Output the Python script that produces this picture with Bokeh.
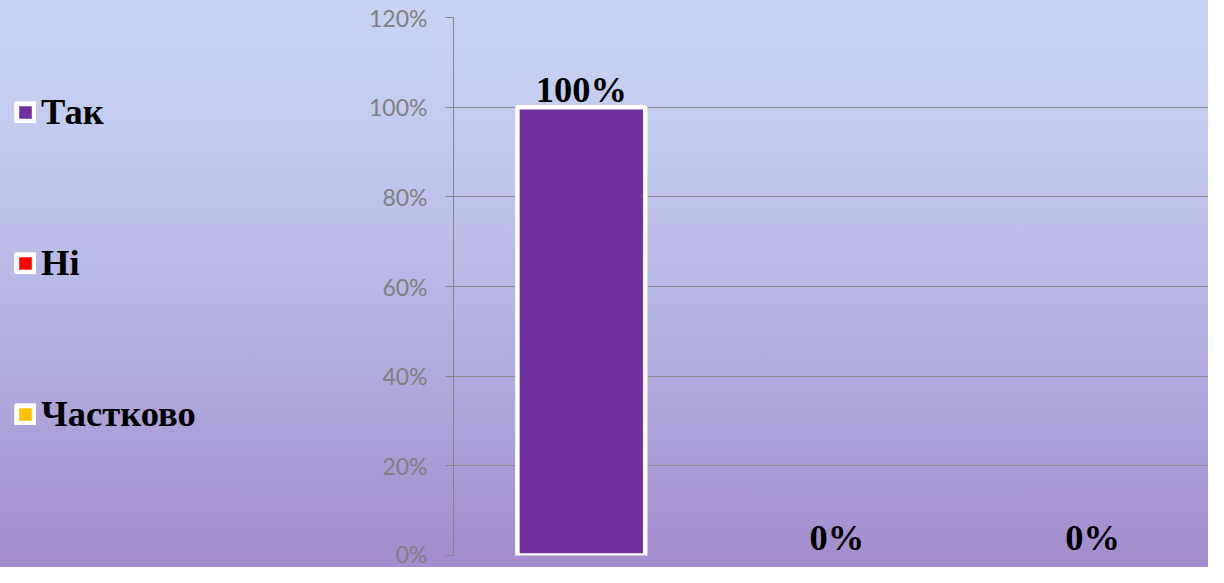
from bokeh.plotting import figure
from bokeh.layouts import row
from bokeh.models import (Range1d, FixedTicker, NumeralTickFormatter, Legend,
                          LegendItem, ColumnDataSource)
from bokeh.core.properties import value
from bokeh.embed import file_html
from bokeh.resources import INLINE

# ---- data ----
categories = ["Так", "Ні", "Частково"]
values = [1.0, 0.0, 0.0]
labels = ["100%", "0%", "0%"]
y_ticks = [0, 0.2, 0.4, 0.6, 0.8, 1.0, 1.2]

# ---- styles ----
colors = ["#7030A0", "#FF0000", "#FFC000"]
W, H = 1208, 567
LW = 300                           # width of the legend figure
FL, FB, FT = 453, 12, 17           # frame left (page) / bottom border / top border
CAT_PX = 255.6                     # pixels per category
GRAD = {"background": "linear-gradient(180deg, #c9d4f3 0%, #c2cbef 25%, #b4b4e3 55%, #a38ccd 100%)"}
SERIF = "Liberation Serif"
BIG = "36.5px"

xs = list(range(len(categories)))
src = ColumnDataSource(dict(
    x=xs, top=values, color=colors, label=labels, cat=categories,
    line=["white" if v > 0 else None for v in values],
))

# ---------------- main chart ----------------
p = figure(width=W - LW, height=H, output_backend="svg", toolbar_location=None,
           x_range=Range1d(-0.5, -0.5 + (W - FL) / CAT_PX), y_range=Range1d(0, 1.2),
           x_axis_location=None,
           min_border_left=FL - LW, min_border_right=0, min_border_top=FT,
           min_border_bottom=FB)
p.background_fill_color = None
p.border_fill_color = None
p.outline_line_color = None
p.styles = GRAD

p.xgrid.visible = False
p.ygrid.grid_line_color = "#8c8c8c"
p.ygrid.grid_line_width = 1
p.ygrid.ticker = FixedTicker(ticks=y_ticks)

ax = p.yaxis[0]
ax.ticker = FixedTicker(ticks=y_ticks)
ax.formatter = NumeralTickFormatter(format="0%")
ax.major_label_text_font = "Lato"
ax.major_label_text_font_size = "23px"
ax.major_label_text_color = "#808080"
ax.axis_line_color = "#868686"
ax.major_tick_line_color = "#868686"
ax.major_tick_out = 8
ax.major_tick_in = 0
ax.minor_tick_line_color = None
ax.major_label_standoff = 18

p.vbar(x="x", top="top", width=0.5, fill_color="color", line_color="line",
       line_width=4.5, source=src)

p.text(x="x", y="top", text="label", source=src,
       text_font=value(SERIF), text_font_style="bold",
       text_font_size=BIG, text_align="center", text_baseline="alphabetic",
       text_color="black", y_offset=-18)

# ---------------- legend panel ----------------
lg = figure(width=LW, height=H, output_backend="svg", toolbar_location=None,
            x_range=Range1d(-0.5, 2.5), y_range=Range1d(0, 1.2),
            x_axis_location=None, y_axis_location=None,
            min_border_left=0, min_border_right=0, min_border_top=0,
            min_border_bottom=0)
lg.background_fill_color = None
lg.border_fill_color = None
lg.outline_line_color = None
lg.grid.visible = False
lg.styles = GRAD

items = []
for i, cat in enumerate(categories):
    r = lg.vbar(x=[xs[i]], top=[values[i]], width=0.5, fill_color=colors[i],
                line_color="white", line_width=5, line_join="round", visible=False)
    items.append(LegendItem(label=cat, renderers=[r]))

legend = Legend(items=items, location=(14, 120), glyph_width=22, glyph_height=22,
                label_standoff=5, label_height=42, spacing=108, padding=0,
                margin=0, border_line_color=None, background_fill_alpha=0,
                inactive_fill_alpha=0,
                label_text_font=SERIF, label_text_font_style="bold",
                label_text_font_size=BIG, label_text_color="black")
lg.add_layout(legend, "center")

layout = row(lg, p, spacing=0)
open("out.html", "w").write(file_html(layout, INLINE))
